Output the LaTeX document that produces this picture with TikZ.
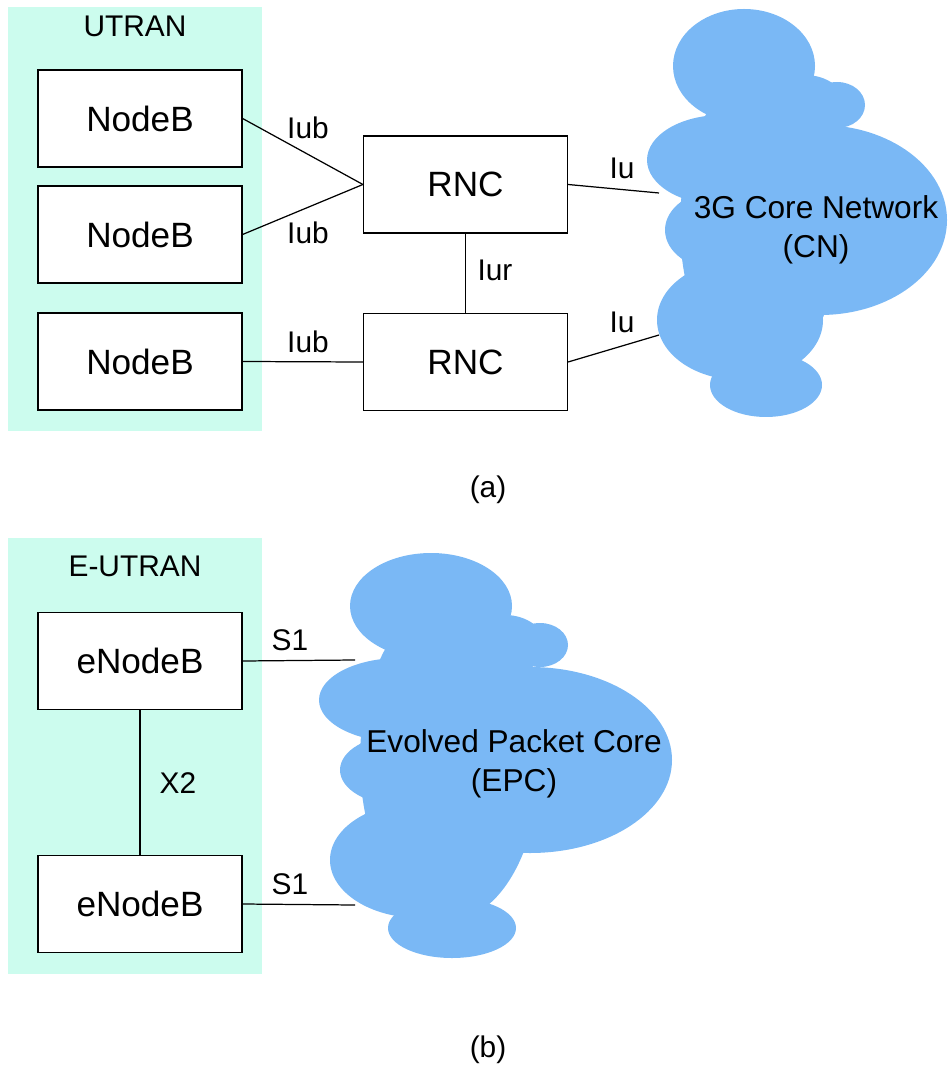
\documentclass[tikz,border=0pt]{standalone}
\usepackage{fontspec}
\setmainfont{Liberation Sans}
\definecolor{ranbg}{HTML}{CCFCEE}
\definecolor{cloudblue}{HTML}{7AB8F5}
\begin{document}
\begin{tikzpicture}[x=0.02cm, y=-0.02cm,
  box/.style={draw, line width=0.7pt, fill=white, minimum width=4.08cm, minimum height=1.94cm, inner sep=0pt, font=\fontsize{20}{24}\selectfont},
  lbl/.style={inner sep=0pt, font=\fontsize{17}{20}\selectfont},
  cloudtxt/.style={inner sep=0pt, align=center, font=\fontsize{18}{22}\selectfont},
  link/.style={line width=0.7pt}]
\useasboundingbox (0,0) rectangle (947,1070);
\fill[ranbg] (8,7) rectangle (262,431);
\fill[ranbg] (8,538) rectangle (262,974);
\node[lbl] (utran) at (135,26){UTRAN};
\node[lbl] (eutran) at (135,566){E-UTRAN};
\fill[cloudblue] (744,66) ellipse (71 and 57);
\fill[cloudblue] (837,105) ellipse (28 and 23);
\fill[cloudblue] (805,105) ellipse (40 and 30);
\fill[cloudblue] (820,220) ellipse (127 and 95);
\fill[cloudblue] (760,225) ellipse (80 and 150);
\fill[cloudblue] (722,160) ellipse (75 and 45);
\fill[cloudblue] (720,230) ellipse (55 and 40);
\fill[cloudblue] (740,320) ellipse (83 and 60);
\fill[cloudblue] (766,385) ellipse (56 and 32);
\fill[cloudblue] (431,606) ellipse (81 and 53);
\fill[cloudblue] (540,645) ellipse (28 and 22);
\fill[cloudblue] (505,645) ellipse (40 and 30);
\fill[cloudblue] (530,760) ellipse (142 and 93);
\fill[cloudblue] (450,760) ellipse (90 and 160);
\fill[cloudblue] (400,700) ellipse (81 and 42);
\fill[cloudblue] (400,770) ellipse (60 and 35);
\fill[cloudblue] (420,860) ellipse (90 and 58);
\fill[cloudblue] (452,928) ellipse (64 and 30);
\node[cloudtxt] (cn) at (816,230){3G Core Network\\(CN)};
\node[cloudtxt] (epc) at (514,764){Evolved Packet Core\\(EPC)};
\coordinate (cnin1) at (659,193);
\coordinate (cnin2) at (659,335);
\coordinate (epcin1) at (355,660);
\coordinate (epcin2) at (355,905);
\node[box] (nb1) at (140,118.5){NodeB};
\node[box] (nb2) at (140,234.5){NodeB};
\node[box] (nb3) at (140,361.5){NodeB};
\node[box] (rnc1) at (465.5,184.5){RNC};
\node[box] (rnc2) at (465.5,362){RNC};
\node[box] (enb1) at (140,661){eNodeB};
\node[box] (enb2) at (140,904){eNodeB};
\draw[link](nb1.east) -- (rnc1.west);
\draw[link](nb2.east) -- (rnc1.west);
\draw[link](nb3.east) -- (rnc2.west);
\draw[link](rnc1.south) -- (rnc2.north);
\draw[link](rnc1.east) -- (cnin1);
\draw[link](rnc2.east) -- (cnin2);
\draw[link](enb1.south) -- (enb2.north);
\draw[link](enb1.east) -- (epcin1);
\draw[link](enb2.east) -- (epcin2);
\node[lbl] (iub1) at (308,128){Iub};
\node[lbl] (iub2) at (308,233){Iub};
\node[lbl] (iub3) at (308,342){Iub};
\node[lbl] (iur) at (495,270){Iur};
\node[lbl] (iu1) at (622,168){Iu};
\node[lbl] (iu2) at (622,322){Iu};
\node[lbl] (x2) at (178,783){X2};
\node[lbl] (s11) at (290,640){S1};
\node[lbl] (s12) at (290,884){S1};
\node[lbl] (capa) at (488,490){(a)};
\node[lbl] (capb) at (488,1050){(b)};
\end{tikzpicture}
\end{document}
